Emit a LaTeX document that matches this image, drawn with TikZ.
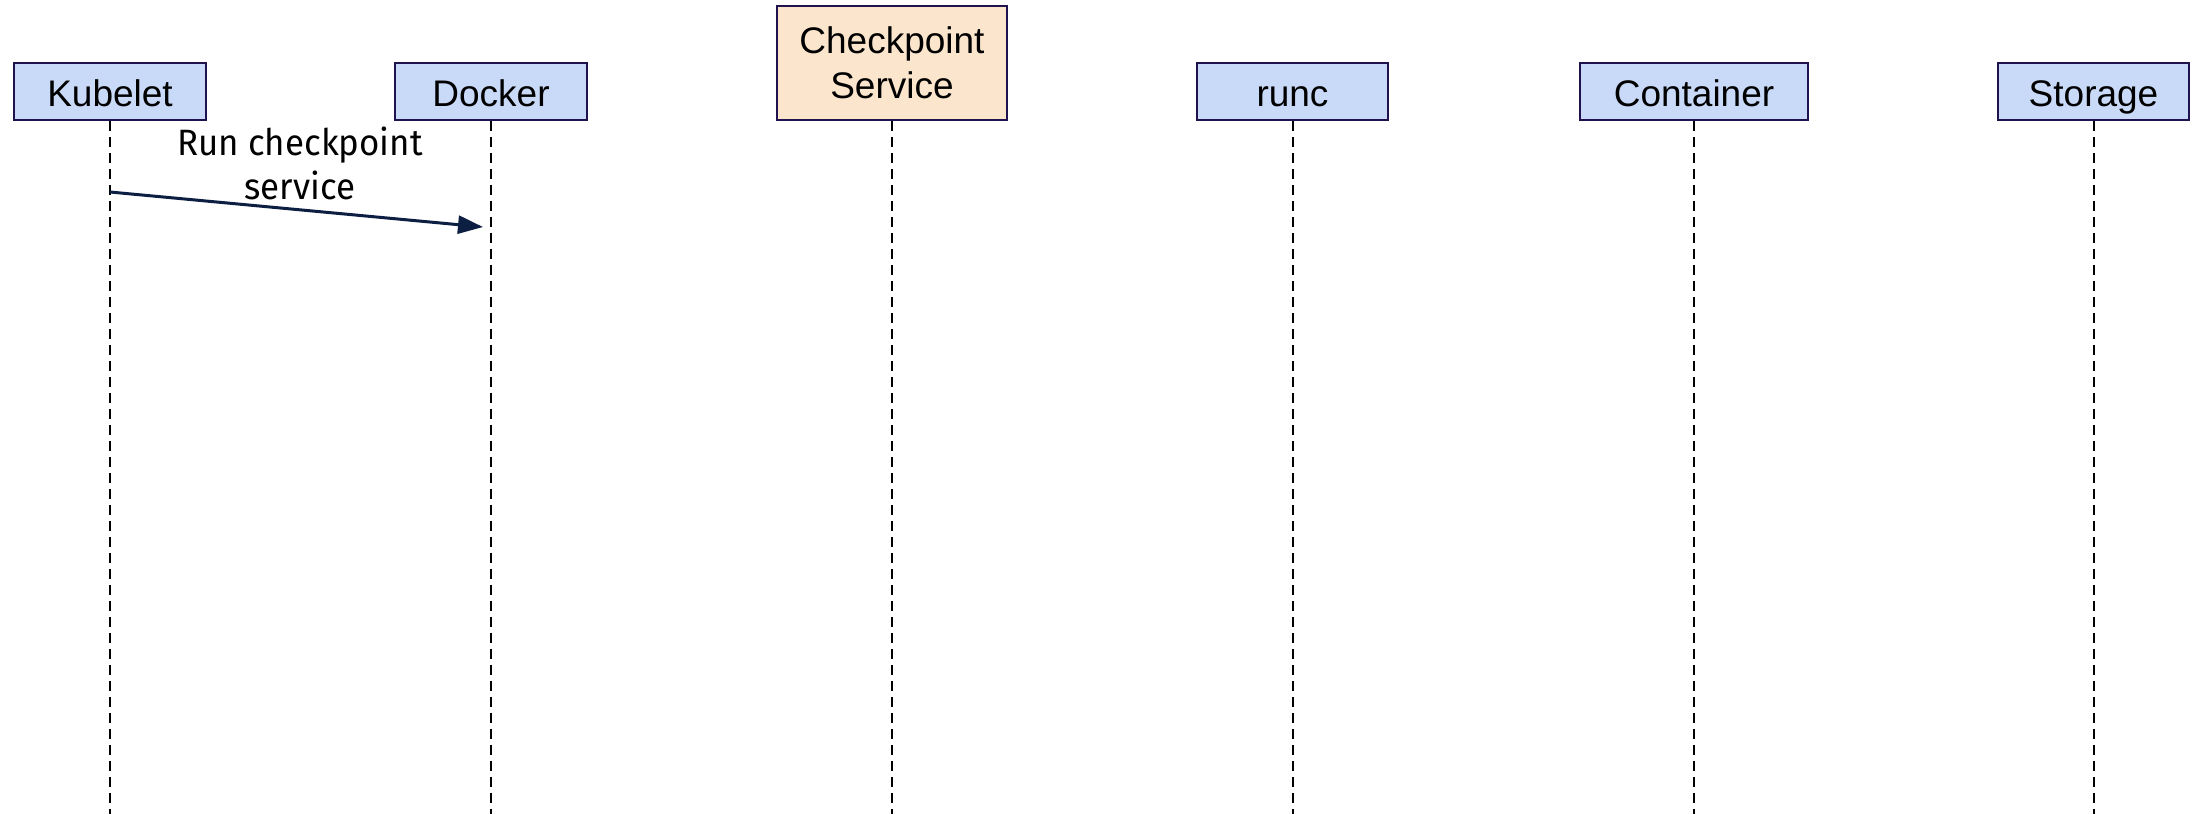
\documentclass[tikz,border=0pt]{standalone}
\usepackage{fontspec}
\setmainfont{Liberation Sans}
\newfontfamily\msgfont[FakeStretch=0.95]{Fira Sans}
\usetikzlibrary{arrows.meta}
\definecolor{boxline}{RGB}{32,18,77}
\definecolor{bluefill}{RGB}{201,218,248}
\definecolor{peachfill}{RGB}{252,229,205}
\definecolor{msgline}{RGB}{12,30,66}
\tikzset{
  actor/.style={draw=boxline,fill=bluefill,line width=0.6pt,inner sep=0pt,
    minimum height=17.1pt,align=center,font=\fontsize{11.1}{13.4}\selectfont},
  oneline/.style={text height=9.6pt,text depth=0.5pt},
  lifeline/.style={line width=0.6pt,dash pattern=on 3pt off 1.8pt},
  msg/.style={draw=msgline,line width=0.9pt,-{Triangle[length=7.5pt,width=5.4pt]}}
}
\begin{document}
\begin{tikzpicture}[x=0.3pt,y=-0.3pt]
\useasboundingbox (0,0) rectangle (2196,814);
%actors
\node[actor,oneline,minimum width=57.6pt] (kubelet) at (110,91.5) {Kubelet};
\node[actor,oneline,minimum width=57.6pt] (docker) at (491,91.5) {Docker};
\node[actor,fill=peachfill,minimum width=69pt,minimum height=34.2pt] (ckpt) at (892,63) {Checkpoint\\Service};
\node[actor,oneline,minimum width=57.3pt] (runc) at (1292.5,91.5) {runc};
\node[actor,oneline,minimum width=68.4pt] (container) at (1694,91.5) {Container};
\node[actor,oneline,minimum width=57.3pt] (storage) at (2093.5,91.5) {Storage};
%lifelines
\coordinate (bot) at (0,814);
\foreach \n in {kubelet,docker,ckpt,runc,container,storage}{
	\coordinate (\n-end) at (\n.south |- bot);
	\draw[lifeline] (\n.south) -- (\n-end);
}
%message
\coordinate (m1) at (kubelet.south |- 0,192);
\coordinate (m2) at (483,227);
\draw[msg] (m1) -- (m2);
\node[align=center,font=\msgfont\fontsize{11}{13.2}\selectfont] (msglabel) at (300,163) {Run checkpoint\\service};
\end{tikzpicture}
\end{document}
